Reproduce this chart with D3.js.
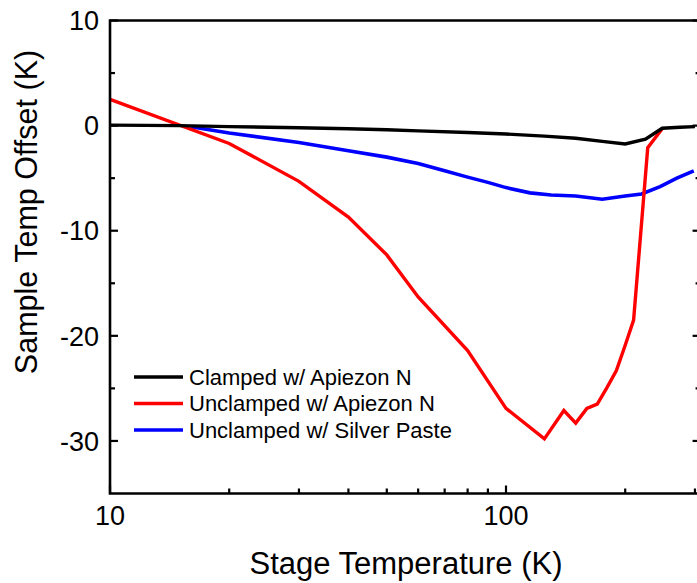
<!DOCTYPE html>
<html>
<head>
<meta charset="utf-8">
<script src="https://cdn.jsdelivr.net/npm/d3@7"></script>
<style>
  html, body { margin: 0; padding: 0; background: #fff; }
  svg { display: block; }
  text { font-family: "Liberation Sans", Arial, Helvetica, sans-serif; fill: #000; }
</style>
</head>
<body>
<svg id="chart" width="697" height="583"></svg>
<script>
// Stage temperature (K) and sample temperature offset (K) for each mounting
const clampedT      = [10, 15, 20, 30, 40, 50, 60, 80, 100, 125, 150, 175, 200, 225, 248, 275, 300];
const clampedOffset = [0.05, 0, -0.1, -0.2, -0.3, -0.4, -0.5, -0.65, -0.8, -1.0, -1.2, -1.5, -1.75, -1.3, -0.25, -0.15, -0.1];

const unclampedT      = [10, 20, 30, 40, 50, 60, 80, 100, 125, 140, 150, 160, 170, 180, 190, 200, 210, 228, 248];
const unclampedOffset = [2.5, -1.7, -5.3, -8.7, -12.3, -16.3, -21.4, -26.9, -29.8, -27.1, -28.3, -26.9, -26.5, -24.9, -23.3, -20.9, -18.5, -2.1, -0.3];

const silverT      = [16, 20, 30, 40, 50, 60, 70, 80, 90, 100, 115, 130, 150, 175, 200, 220, 245, 270, 298];
const silverOffset = [-0.1, -0.7, -1.6, -2.4, -3.0, -3.6, -4.3, -4.9, -5.4, -5.9, -6.4, -6.6, -6.7, -7.0, -6.7, -6.5, -5.8, -5.0, -4.3];

const seriesNames  = ["Clamped w/ Apiezon N", "Unclamped w/ Apiezon N", "Unclamped w/ Silver Paste"];
const seriesColors = ["#000000", "#ff0000", "#0000ff"];

const xMajorTicks = [10, 100];
const xMinorTicks = [20, 30, 40, 50, 60, 70, 80, 90, 200, 300];
const yMajorTicks = [10, 0, -10, -20, -30];
const yMinorTicks = [5, -5, -15, -25];

const svg = d3.select("#chart");

const plot = { left: 110, top: 20.5, bottom: 493.5 };

const x = d3.scaleLog().domain([10, 310]).range([plot.left, plot.left + 396 * Math.log10(31)]);
const y = d3.scaleLinear().domain([-35, 10]).range([plot.bottom, plot.top]);

const xr = x.range()[1];

// curves
const line = d3.line().x(d => x(d[0])).y(d => y(d[1]));
const series = [
  { name: seriesNames[2], color: seriesColors[2], width: 3.6, pts: d3.zip(silverT, silverOffset) },
  { name: seriesNames[1], color: seriesColors[1], width: 3.4, pts: d3.zip(unclampedT, unclampedOffset) },
  { name: seriesNames[0], color: seriesColors[0], width: 3.4, pts: d3.zip(clampedT, clampedOffset) }
];
svg.append("g").selectAll("path").data(series).join("path")
  .attr("d", d => line(d.pts))
  .attr("fill", "none")
  .attr("stroke", d => d.color)
  .attr("stroke-width", d => d.width)
  .attr("stroke-linejoin", "miter");

// frame
const frame = svg.append("g").attr("stroke", "#000").attr("stroke-width", 2.6).attr("fill", "none");
frame.append("path")
  .attr("d", `M${xr},${plot.top}H${plot.left}V${plot.bottom}H${xr}V${plot.top}`)
  .attr("stroke-linecap", "square");

// ticks (inward)
const ticks = svg.append("g").attr("stroke", "#000").attr("stroke-width", 2.2);
yMajorTicks.forEach(v => {
  ticks.append("line").attr("x1", plot.left).attr("x2", plot.left + 8).attr("y1", y(v)).attr("y2", y(v));
  ticks.append("line").attr("x1", xr).attr("x2", xr - 8).attr("y1", y(v)).attr("y2", y(v));
});
yMinorTicks.forEach(v => {
  ticks.append("line").attr("x1", plot.left).attr("x2", plot.left + 5).attr("y1", y(v)).attr("y2", y(v));
  ticks.append("line").attr("x1", xr).attr("x2", xr - 5).attr("y1", y(v)).attr("y2", y(v));
});
xMajorTicks.forEach(v => {
  ticks.append("line").attr("x1", x(v)).attr("x2", x(v)).attr("y1", plot.bottom).attr("y2", plot.bottom - 8);
});
xMinorTicks.forEach(v => {
  ticks.append("line").attr("x1", x(v)).attr("x2", x(v)).attr("y1", plot.bottom).attr("y2", plot.bottom - 5);
});

// tick labels (plain hyphen for negatives)
svg.append("g").selectAll("text").data(yMajorTicks).join("text")
  .attr("x", 99).attr("y", d => y(d)).attr("dy", "0.36em")
  .attr("text-anchor", "end").attr("font-size", 27)
  .text(d => String(d));

svg.append("g").selectAll("text").data(xMajorTicks).join("text")
  .attr("x", d => x(d)).attr("y", 525)
  .attr("text-anchor", "middle").attr("font-size", 27)
  .text(d => String(d));

// axis titles
svg.append("text")
  .attr("x", 406).attr("y", 574)
  .attr("text-anchor", "middle").attr("font-size", 31)
  .text("Stage Temperature (K)");

svg.append("text")
  .attr("transform", "translate(37,212) rotate(-90)")
  .attr("text-anchor", "middle").attr("font-size", 30.5)
  .text("Sample Temp Offset (K)");

// legend
const legend = svg.append("g");
const legendRows = [0, 1, 2];
const rowY = i => 377 + i * 26.5;
legend.selectAll("line").data(legendRows).join("line")
  .attr("x1", 134).attr("x2", 183)
  .attr("y1", i => rowY(i)).attr("y2", i => rowY(i))
  .attr("stroke", i => seriesColors[i]).attr("stroke-width", 3.4);
legend.selectAll("text").data(legendRows).join("text")
  .attr("x", 189).attr("y", i => rowY(i)).attr("dy", "0.36em")
  .attr("font-size", 22)
  .text(i => seriesNames[i]);
</script>
</body>
</html>
